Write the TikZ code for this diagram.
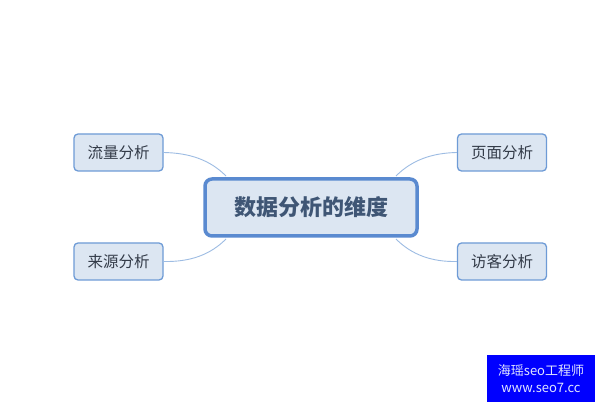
\documentclass[tikz,border=0pt]{standalone}
\usepackage{fontspec}
\setmainfont{Noto Sans CJK SC}
\begin{document}
\begin{tikzpicture}[x=1pt,y=-1pt,
  topic/.style={draw=boxblue,line width=1.3pt,fill=boxfill,rounded corners=4pt,minimum width=89pt,minimum height=37pt,inner sep=0pt,font=\fontsize{15.5}{18}\selectfont,text=txtgray},
  central/.style={draw=cenblue,line width=3.5pt,fill=boxfill,rounded corners=7pt,minimum width=212pt,minimum height=57pt,inner sep=0pt,font=\fontsize{22}{26}\selectfont\bfseries,text=centxt},
  link/.style={draw=linkblue,line width=0.9pt}]
\definecolor{boxblue}{HTML}{6E9BD6}
\definecolor{cenblue}{HTML}{5A8AD0}
\definecolor{boxfill}{HTML}{DCE6F2}
\definecolor{txtgray}{HTML}{333B48}
\definecolor{centxt}{HTML}{3F5675}
\definecolor{linkblue}{HTML}{9DBCE3}
\useasboundingbox (0,0) rectangle (600,406);
\fill[white] (0,0) rectangle (600,406);
\node[central] (c) at (311,207.5) {数据分析的维度};
\node[topic] (a) at (118.5,152.5) {流量分析};
\node[topic] (b) at (118.5,261.5) {来源分析};
\node[topic] (p) at (502,152.5) {页面分析};
\node[topic] (v) at (502,261.5) {访客分析};
\coordinate (c1) at (226,176);
\coordinate (c2) at (226,239);
\coordinate (c3) at (396,176);
\coordinate (c4) at (396,239);
\draw[link] (c1) .. controls (210,160) and (190,153) .. (a.east);
\draw[link] (c2) .. controls (210,255) and (190,262) .. (b.east);
\draw[link] (c3) .. controls (412,160) and (432,153) .. (p.west);
\draw[link] (c4) .. controls (412,255) and (432,262) .. (v.west);
\node[fill={rgb,255:red,0;green,0;blue,255},minimum width=108pt,minimum height=47pt,inner sep=0pt,text={rgb,255:red,225;green,230;blue,255},font=\fontsize{13}{17}\selectfont,align=center] (w) at (541,378.5) {海瑶seo工程师\\www.seo7.cc};
\end{tikzpicture}
\end{document}
